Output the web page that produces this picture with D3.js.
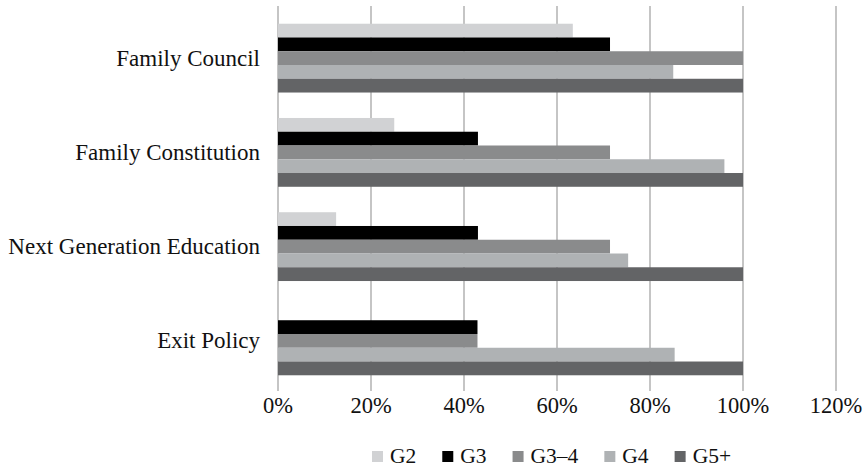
<!DOCTYPE html>
<html>
<head>
<meta charset="utf-8">
<script src="https://cdn.jsdelivr.net/npm/d3@7"></script>
<style>
  html, body { margin: 0; padding: 0; background: #fff; }
  svg { display: block; font-family: "Liberation Serif", "Times New Roman", serif; }
</style>
</head>
<body>
<svg id="chart" width="865" height="469"></svg>
<script>
// Governance practices by generation (share of families, %)
const categories = ["Family Council", "Family Constitution", "Next Generation Education", "Exit Policy"];
const seriesNames = ["G2", "G3", "G3\u20134", "G4", "G5+"];
const seriesColors = ["#d1d2d4", "#000000", "#8a8b8c", "#afb2b4", "#636466"];
const valuesG2  = [63.4, 25.0, 12.5, 0];
const valuesG3  = [71.4, 43.0, 43.0, 42.9];
const valuesG34 = [100, 71.4, 71.4, 42.9];
const valuesG4  = [85.0, 96.0, 75.3, 85.3];
const valuesG5  = [100, 100, 100, 100];
const xTicks = [0, 20, 40, 60, 80, 100, 120];

const series = [valuesG2, valuesG3, valuesG34, valuesG4, valuesG5];

const svg = d3.select("#chart");

const x = d3.scaleLinear().domain([0, 120]).range([278, 836]);
const y = d3.scaleBand().domain(categories).range([11, 388]).paddingInner(0.27).paddingOuter(0.135);
const ySub = d3.scaleBand().domain(seriesNames).range([0, y.bandwidth()]);

// vertical gridlines
svg.append("g")
  .selectAll("line")
  .data(xTicks)
  .join("line")
  .attr("x1", d => x(d)).attr("x2", d => x(d))
  .attr("y1", 6).attr("y2", 391)
  .attr("stroke", "#a6a6a6")
  .attr("stroke-width", 1.3);

// bars
const groups = svg.append("g")
  .selectAll("g")
  .data(categories)
  .join("g")
  .attr("transform", c => `translate(0,${y(c)})`);

groups.selectAll("rect")
  .data((c, i) => series.map((vals, s) => ({ name: seriesNames[s], color: seriesColors[s], v: vals[i] })))
  .join("rect")
  .attr("x", x(0))
  .attr("y", d => ySub(d.name))
  .attr("width", d => x(d.v) - x(0))
  .attr("height", ySub.bandwidth())
  .attr("fill", d => d.color);

// category labels
svg.append("g")
  .selectAll("text")
  .data(categories)
  .join("text")
  .attr("x", 260)
  .attr("y", c => y(c) + y.bandwidth() / 2 + 7.5)
  .attr("text-anchor", "end")
  .attr("font-size", 23)
  .attr("fill", "#111")
  .text(c => c);

// x tick labels
svg.append("g")
  .selectAll("text")
  .data(xTicks)
  .join("text")
  .attr("x", d => x(d))
  .attr("y", 413)
  .attr("text-anchor", "middle")
  .attr("font-size", 22.5)
  .attr("fill", "#111")
  .text(d => d + "%");

// legend
const legend = svg.append("g").attr("transform", "translate(372,0)");
let lx = 0;
seriesNames.forEach((name, i) => {
  const item = legend.append("g").attr("transform", `translate(${lx},0)`);
  item.append("rect")
    .attr("x", 0).attr("y", 451)
    .attr("width", 11).attr("height", 11)
    .attr("fill", seriesColors[i]);
  const t = item.append("text")
    .attr("x", 18).attr("y", 463)
    .attr("font-size", 21.5)
    .attr("fill", "#111")
    .text(name);
  lx += 18 + t.node().getComputedTextLength() + 26;
});
</script>
</body>
</html>
